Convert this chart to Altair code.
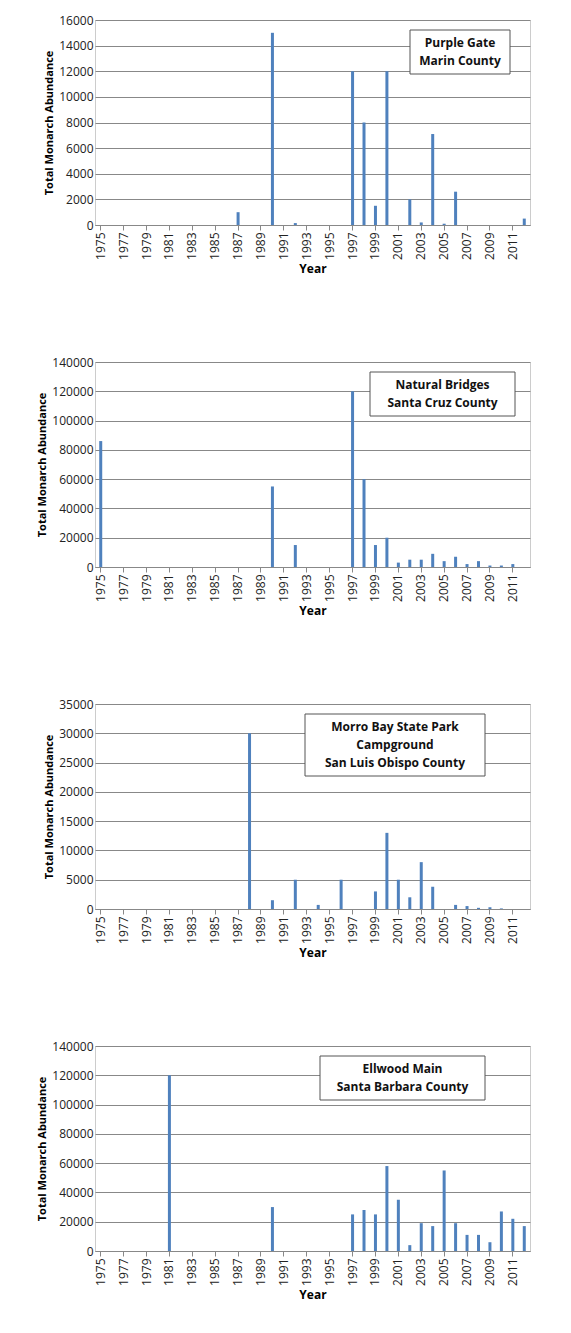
import altair as alt
import pandas as pd

BAR_COLOR = "#4f81bd"
FONT = "Open Sans"

years = list(range(1975, 2013))
label_years = [str(y) for y in range(1975, 2012, 2)]

purple_gate = {1987: 1000, 1990: 15000, 1992: 150, 1997: 12000, 1998: 8000, 1999: 1500,
               2000: 12000, 2002: 2000, 2003: 200, 2004: 7100, 2005: 100, 2006: 2600, 2012: 500}
natural_bridges = {1975: 86000, 1990: 55000, 1992: 15000, 1997: 120000, 1998: 60000, 1999: 15000,
                   2000: 20000, 2001: 3000, 2002: 5000, 2003: 5000, 2004: 9000, 2005: 4000,
                   2006: 7000, 2007: 2000, 2008: 4000, 2009: 1000, 2010: 1000, 2011: 2000}
morro_bay = {1988: 30000, 1990: 1500, 1992: 5000, 1994: 700, 1996: 5000, 1999: 3000, 2000: 13000,
             2001: 5000, 2002: 2000, 2003: 8000, 2004: 3800, 2006: 700, 2007: 500, 2008: 200,
             2009: 300, 2010: 100}
ellwood = {1981: 120000, 1990: 30000, 1997: 25000, 1998: 28000, 1999: 25000, 2000: 58000,
           2001: 35000, 2002: 4000, 2003: 19000, 2004: 17000, 2005: 55000, 2006: 19000,
           2007: 11000, 2008: 11000, 2009: 6000, 2010: 27000, 2011: 22000, 2012: 17000}

panels = [
    (purple_gate, 16000, 2000, ["Purple Gate", "Marin County"], 315, 100),
    (natural_bridges, 140000, 20000, ["Natural Bridges", "Santa Cruz County"], 275, 145),
    (morro_bay, 35000, 5000, ["Morro Bay State Park", "Campground", "San Luis Obispo County"], 210, 180),
    (ellwood, 140000, 20000, ["Ellwood Main", "Santa Barbara County"], 225, 165),
]

W, H = 435, 205


def panel(values, ymax, step, lines, box_x, box_w):
    df = pd.DataFrame({"year": [str(y) for y in years],
                       "count": [values.get(y, 0) for y in years]})
    one = pd.DataFrame({"k": [0]})
    bars = alt.Chart(df).mark_bar(color=BAR_COLOR, size=3).encode(
        x=alt.X("year:O", title="Year", sort=None,
                axis=alt.Axis(values=label_years, labelAngle=-90, labelFontSize=12,
                              titleFontSize=12, titleFontWeight="bold", ticks=True,
                              tickColor="#888", domainColor="#888", labelColor="#222")),
        y=alt.Y("count:Q", title="Total Monarch Abundance",
                scale=alt.Scale(domain=[0, ymax], nice=False),
                axis=alt.Axis(values=list(range(0, ymax + 1, step)), format="d",
                              labelFontSize=12, titleFontSize=11, titleFontWeight="bold",
                              gridColor="#888", domain=False, ticks=False, labelColor="#222")),
    )
    box_h = 18 * len(lines) + 8
    box = alt.Chart(one).mark_rect(fill="white", stroke="#555", strokeWidth=1).encode(
        x=alt.value(box_x), x2=alt.value(box_x + box_w), y=alt.value(10), y2=alt.value(10 + box_h))
    texts = [
        alt.Chart(one).mark_text(text=t, font=FONT, fontSize=12, fontWeight="bold", color="#111").encode(
            x=alt.value(box_x + box_w / 2), y=alt.value(23 + 18 * i))
        for i, t in enumerate(lines)
    ]
    return alt.layer(bars, box, *texts).properties(width=W, height=H)


chart = alt.vconcat(*[panel(*p) for p in panels], spacing=80).properties(
    padding={"left": 28, "top": 5, "right": 5, "bottom": 5}
).configure(font=FONT).configure_view(stroke="#ccc").configure_concat(spacing=80)

chart.save("out.html", embed_options={"renderer": "svg", "actions": False})
